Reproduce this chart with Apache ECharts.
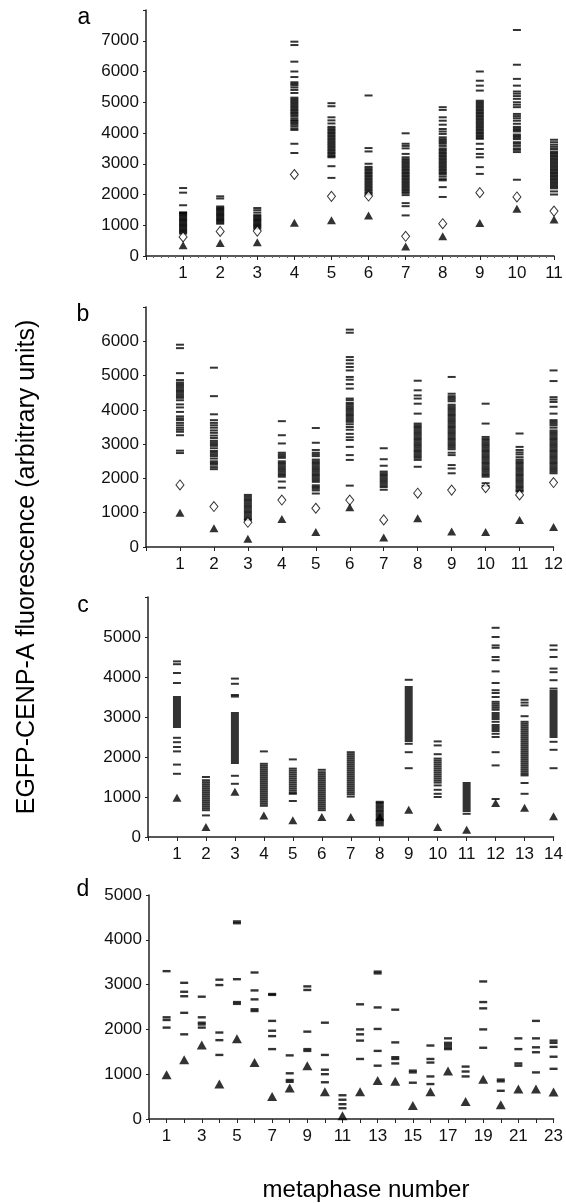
<!DOCTYPE html>
<html>
<head>
<meta charset="utf-8">
<script src="https://cdn.jsdelivr.net/npm/echarts@6/dist/echarts.min.js"></script>
<style>
html,body{margin:0;padding:0;background:#fff;}
#chart{width:566px;height:1203px;}
</style>
</head>
<body>
<div id="chart"></div>
<script>
// ---------- Panel a (11 metaphases) ----------
const aDash = [
  [2210,2060,1650,1420,1400,1370,1330,1290,1250,1210,1170,1130,1090,1050,1010,970,930,890,850,810,770,730],
  [1940,1870,1610,1570,1530,1490,1450,1410,1370,1330,1290,1250,1210,1170,1130,1090,1050],
  [1560,1490,1410,1330,1290,1250,1210,1170,1130,1090,1050,1010,970,930,890],
  [6970,6860,6320,6000,5820,5650,5600,5550,5480,5400,5300,5150,5100,5050,5000,4950,4900,4850,4800,4750,4700,4650,4600,4550,4480,4420,4380,4330,4280,4220,4150,4100,3650,3350],
  [4970,4870,4510,4410,4310,4200,4150,4100,4050,4000,3950,3900,3850,3800,3750,3700,3650,3600,3550,3500,3450,3400,3350,3300,3250,3210,2920,2540],
  [5220,3510,3400,3000,2900,2850,2800,2750,2700,2650,2600,2550,2500,2450,2400,2350,2300,2250,2200,2150,2100,2050,2000],
  [3990,3650,3580,3500,3320,3210,3150,3100,3050,3000,2950,2900,2850,2800,2750,2700,2650,2600,2550,2500,2450,2400,2350,2300,2250,2200,2150,2100,2050,1980,1720,1620,1320],
  [4840,4750,4510,4400,4270,4130,4050,3970,3860,3800,3750,3700,3650,3580,3500,3450,3400,3350,3300,3250,3200,3150,3100,3050,3000,2950,2900,2850,2800,2750,2700,2650,2580,2500,2460,2240,1920],
  [6000,5700,5540,5380,5050,5000,4950,4900,4850,4800,4750,4700,4650,4600,4550,4500,4450,4400,4350,4300,4250,4200,4150,4100,4050,4000,3950,3900,3850,3810,3650,3480,3320,3210,2890,2670],
  [7350,6220,5760,5540,5350,5280,5200,5110,5000,4920,4840,4620,4550,4480,4400,4300,4200,4150,4100,4050,3950,3900,3850,3800,3700,3650,3580,3500,3450,3380,2480],
  [3780,3700,3620,3550,3480,3400,3350,3300,3250,3200,3150,3100,3050,3000,2950,2900,2850,2800,2750,2700,2650,2600,2550,2500,2450,2400,2350,2300,2250,2200,2100,2000]
];
const aDiamond = [620,800,810,2650,1940,1950,640,1050,2060,1920,1460];
const aTriangle = [350,420,450,1080,1160,1320,310,640,1070,1540,1190];

// ---------- Panel b (12 metaphases) ----------
const bDash = [
  [5900,5800,5070,4870,4800,4750,4700,4650,4600,4550,4500,4450,4400,4350,4280,4160,4070,3940,3810,3750,3700,3620,3550,3480,3420,3360,3260,2810,2740],
  [5230,4400,3870,3700,3620,3550,3480,3400,3330,3250,3180,3100,3050,3000,2950,2880,2800,2750,2700,2650,2580,2500,2450,2400,2330,2270],
  [1520,1470,1420,1370,1320,1270,1220,1170,1120,1070,1020,970,920,870,820,790],
  [3670,3260,3020,2750,2700,2650,2600,2500,2450,2400,2350,2300,2250,2200,2150,2100,2050,1910,1730],
  [3470,3040,2830,2750,2700,2650,2550,2500,2450,2400,2350,2300,2250,2200,2150,2100,2050,2000,1950,1900,1800,1750,1700,1650,1560],
  [6340,6250,5540,5450,5350,5250,5150,4960,4880,4750,4620,4330,4280,4200,4150,4100,4050,4000,3950,3900,3850,3800,3750,3700,3650,3580,3500,3420,3300,3200,3120,2920,2680,2540,1790],
  [2880,2560,2370,2200,2150,2100,2050,2000,1950,1900,1850,1800,1750,1670],
  [4850,4570,4420,4330,4180,3890,3600,3550,3500,3450,3400,3350,3300,3250,3200,3150,3100,3050,3000,2950,2900,2850,2800,2750,2700,2650,2600,2540,2340],
  [4960,4470,4400,4350,4300,4250,4150,4100,4050,4000,3950,3900,3850,3800,3750,3700,3650,3600,3550,3500,3450,3400,3350,3300,3250,3200,3150,3100,3050,3000,2950,2900,2850,2750,2680,2390,2290,2150],
  [4180,3600,3210,3150,3100,3050,3000,2950,2900,2850,2800,2750,2700,2650,2600,2550,2500,2450,2400,2350,2300,2250,2200,2150,2100,2050,1860,1780],
  [3310,2920,2830,2760,2700,2620,2550,2500,2450,2400,2350,2300,2250,2200,2150,2100,2050,2000,1950,1900,1850,1800,1750,1700,1650,1620],
  [5150,4840,4370,4300,4230,4090,3890,3700,3650,3600,3550,3480,3400,3350,3300,3250,3200,3150,3100,3050,3000,2950,2900,2850,2800,2750,2700,2650,2600,2550,2500,2450,2400,2350,2300,2250,2200,2150]
];
const bDiamond = [1810,1180,720,1370,1130,1370,790,1570,1660,1730,1520,1880];
const bTriangle = [1000,550,240,820,440,1160,280,840,450,440,790,580];

// ---------- Panel c (14 metaphases) ----------
const cDash = [
  [4390,4320,4100,3850,3500,3450,3400,3350,3300,3250,3200,3150,3100,3050,3000,2950,2900,2850,2800,2750,2480,2370,2250,2140,1810,1580],
  [1500,1420,1370,1320,1270,1220,1170,1120,1070,1020,970,920,870,820,770,720,670,540],
  [3960,3830,3550,3510,3100,3050,3000,2950,2900,2850,2800,2750,2700,2650,2600,2550,2500,2450,2400,2350,2300,2250,2200,2150,2100,2050,2000,1950,1900,1850,1530,1330],
  [2140,1830,1780,1730,1680,1630,1580,1530,1480,1430,1380,1330,1280,1230,1180,1130,1080,1030,980,930,880,830,780],
  [1940,1710,1660,1610,1560,1510,1460,1410,1360,1310,1260,1210,1160,1110,1080,900],
  [1680,1620,1570,1520,1470,1420,1370,1320,1270,1220,1170,1120,1070,1020,970,920,870,820,770,720,670],
  [2120,2070,2020,1970,1920,1870,1820,1770,1720,1670,1620,1570,1520,1470,1420,1370,1320,1270,1220,1170,1120,1070,1010],
  [880,850,810,770,730,690,650,610,570,530,490,450,410,370,330,290],
  [3930,3750,3700,3650,3600,3550,3500,3450,3400,3350,3300,3250,3200,3150,3100,3050,3000,2950,2900,2850,2800,2750,2700,2650,2600,2550,2500,2450,2400,2330,2120,1720],
  [2390,2290,2070,1960,1910,1860,1810,1760,1710,1660,1610,1560,1510,1460,1410,1360,1290,1180,1080,1000],
  [1350,1300,1250,1200,1150,1100,1050,1000,950,900,850,800,750,700,650,580],
  [5230,5000,4790,4730,4500,4420,4140,3850,3670,3600,3500,3380,3330,3280,3230,3180,3100,3050,3000,2950,2880,2800,2750,2700,2650,2580,2500,2120,1790,950],
  [3430,3360,3290,3020,2880,2830,2780,2730,2680,2630,2580,2530,2480,2430,2380,2330,2280,2230,2180,2130,2080,2030,1980,1930,1880,1830,1780,1730,1680,1630,1580,1540,1350,1080],
  [4790,4680,4500,4210,4120,3920,3710,3650,3600,3550,3500,3450,3400,3350,3300,3250,3200,3150,3100,3050,3000,2950,2900,2850,2800,2750,2700,2650,2600,2550,2500,2380,2180,1720]
];
const cTriangle = [980,250,1130,540,420,500,500,500,680,250,180,850,730,520];

// ---------- Panel d (23 metaphases) ----------
const dDash = [
  [3300,2270,2210,2040],
  [3040,2840,2740,2370,1890],
  [2730,2270,2150,2110,2040],
  [3110,2990,1930,1760,1430],
  [4410,4370,3120,2610,2570],
  [3270,2870,2670,2450,2410],
  [2790,2770,2190,1970,1850,1560],
  [1420,1020,870,830],
  [2960,2880,1950,1560,1520],
  [2150,1430,1100,1000,820],
  [530,430,330,240],
  [2560,2000,1890,1750,1340],
  [3290,3250,2490,2010,1520,1190],
  [2440,1710,1380,1340,1240],
  [1080,1040,810],
  [1640,1340,1260,950,780],
  [1800,1700,1650,1600,1560],
  [1170,1060,950],
  [3070,2610,2470,2000,1590],
  [880,840,630],
  [1800,1560,1240,1190],
  [2190,1800,1600,1490,1040],
  [1750,1700,1610,1390,1120]
];
const dTriangle = [990,1320,1650,780,1790,1260,500,690,1190,610,70,610,860,840,300,610,1070,390,890,320,670,670,600];

// ---------- build ----------
function dashPoints(cols){ const out=[]; cols.forEach((vals,i)=>vals.forEach(v=>out.push([i+1,v]))); return out; }
function singlePoints(vals){ return vals.map((v,i)=>[i+1,v]); }

const FONT = '"Liberation Sans", Arial, Helvetica, sans-serif';
const AX = '#222';

const panels = [
  {n:11, ymax:8000, showMax:false, grid:{left:146, top:10, width:408, height:246}, dash:aDash, dia:aDiamond, tri:aTriangle, minor:true, odd:false},
  {n:12, ymax:7000, showMax:false, grid:{left:146, top:307, width:410, height:240}, dash:bDash, dia:bDiamond, tri:bTriangle, minor:false, odd:false},
  {n:14, ymax:6000, showMax:false, grid:{left:148, top:597, width:407, height:240}, dash:cDash, dia:null, tri:cTriangle, minor:false, odd:false},
  {n:23, ymax:5000, showMax:true,  grid:{left:149, top:895, width:410, height:224}, dash:dDash, dia:null, tri:dTriangle, minor:false, odd:true}
];

const grids=[], xAxes=[], yAxes=[], series=[];
panels.forEach((p,k)=>{
  grids.push(Object.assign({containLabel:false}, p.grid));
  xAxes.push({
    type:'value', gridIndex:k, min:0, max:p.n, interval:1,
    axisLine:{show:true, lineStyle:{color:AX, width:1.5}},
    axisTick:{show:true, inside:false, length:4, lineStyle:{color:AX, width:1}},
    minorTick:{show:p.minor, splitNumber:5, length:2, lineStyle:{color:'#666', width:1}},
    splitLine:{show:false},
    axisLabel:{
      fontFamily:FONT, fontSize:17, color:'#111', margin:9,
      formatter:(v)=>{ if(v<1||v>p.n) return ''; if(p.odd && v%2===0) return ''; return String(v); }
    }
  });
  yAxes.push({
    type:'value', gridIndex:k, min:0, max:p.ymax, interval:1000,
    axisLine:{show:true, lineStyle:{color:AX, width:1.5}},
    axisTick:{show:true, inside:false, length:3, lineStyle:{color:AX, width:1}},
    splitLine:{show:false},
    axisLabel:{
      fontFamily:FONT, fontSize:17, color:'#111', margin:7,
      formatter:(v)=>{ if(!p.showMax && v===p.ymax) return ''; return String(v); }
    }
  });
  const dSize = p.odd ? [8,2.4] : [8,2];
  series.push({type:'scatter', xAxisIndex:k, yAxisIndex:k, symbol:'rect', symbolSize:dSize,
    itemStyle:{color:'#000'}, data:dashPoints(p.dash), silent:true, animation:false, z:2});
  if(p.dia){
    series.push({type:'scatter', xAxisIndex:k, yAxisIndex:k, symbol:'diamond', symbolSize:[8,10],
      itemStyle:{color:'#fff', borderColor:'#000', borderWidth:1}, data:singlePoints(p.dia), silent:true, animation:false, z:3});
  }
  series.push({type:'scatter', xAxisIndex:k, yAxisIndex:k, symbol:'triangle', symbolSize: p.odd ? [10,9] : [9,8],
    itemStyle:{color:'#000'}, data:singlePoints(p.tri), silent:true, animation:false, z:4});
});

const txt = (t, x, y, size) => ({type:'text', x:x, y:y, style:{text:t, fontFamily:FONT, fontSize:size, fill:'#000', textAlign:'center', textVerticalAlign:'middle'}});

const chart = echarts.init(document.getElementById('chart'), null, {renderer:'canvas'});
chart.setOption({
  backgroundColor:'#fff',
  animation:false,
  grid:grids, xAxis:xAxes, yAxis:yAxes, series:series,
  graphic:[
    txt('a', 84, 18, 23),
    txt('b', 83, 315, 23),
    txt('c', 83, 606, 23),
    txt('d', 83, 890, 23),
    {type:'text', x:27, y:567, rotation:Math.PI/2,
      style:{text:'EGFP-CENP-A fluorescence (arbitrary units)', fontFamily:FONT, fontSize:25, fill:'#000', textAlign:'center', textVerticalAlign:'middle'}},
    txt('metaphase number', 366, 1190, 24)
  ]
});
</script>
</body>
</html>
